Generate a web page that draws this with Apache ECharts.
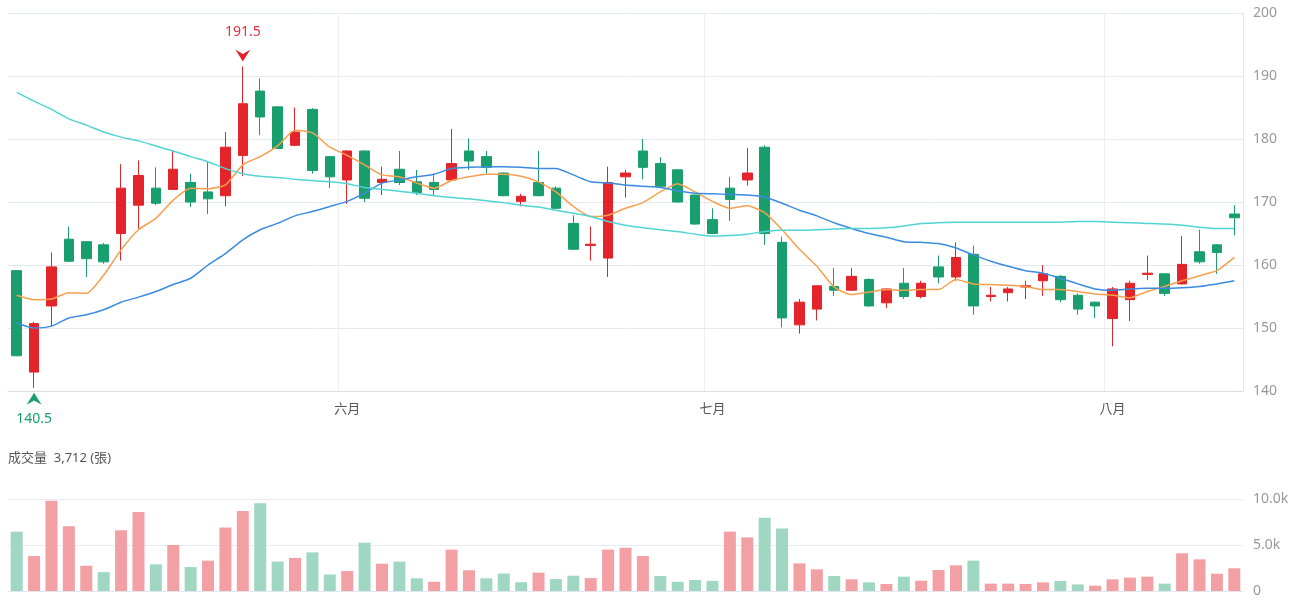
<!DOCTYPE html>
<html>
<head>
<meta charset="utf-8">
<script src="https://cdn.jsdelivr.net/npm/echarts@6/dist/echarts.min.js"></script>
<style>
  html, body { margin: 0; padding: 0; background: #fff; }
  #main { width: 1300px; height: 600px; }
</style>
</head>
<body>
<div id="main"></div>
<script>
// 交易日
const dates = [
  '2020/05/05','2020/05/06','2020/05/07','2020/05/08','2020/05/11','2020/05/12','2020/05/13','2020/05/14','2020/05/15','2020/05/18',
  '2020/05/19','2020/05/20','2020/05/21','2020/05/22','2020/05/25','2020/05/26','2020/05/27','2020/05/28','2020/05/29',
  '2020/06/01','2020/06/02','2020/06/03','2020/06/04','2020/06/05','2020/06/08','2020/06/09','2020/06/10','2020/06/11','2020/06/12',
  '2020/06/15','2020/06/16','2020/06/17','2020/06/18','2020/06/19','2020/06/20','2020/06/22','2020/06/23','2020/06/24','2020/06/29','2020/06/30',
  '2020/07/01','2020/07/02','2020/07/03','2020/07/06','2020/07/07','2020/07/08','2020/07/09','2020/07/10','2020/07/13','2020/07/14',
  '2020/07/15','2020/07/16','2020/07/17','2020/07/20','2020/07/21','2020/07/22','2020/07/23','2020/07/24','2020/07/27','2020/07/28',
  '2020/07/29','2020/07/30','2020/07/31',
  '2020/08/03','2020/08/04','2020/08/05','2020/08/06','2020/08/07','2020/08/10','2020/08/11','2020/08/12'
];
const monthNames = ['一月','二月','三月','四月','五月','六月','七月','八月','九月','十月','十一月','十二月'];

// K線 開/收/低/高
const opens = [
  159.1,143.0,153.5,164.1,163.7,163.2,165.0,169.5,172.2,172.0,173.1,171.6,
  171.0,177.4,187.6,185.1,179.0,184.7,177.2,173.5,178.1,173.1,175.2,173.2,
  173.1,173.5,178.1,177.2,174.6,170.1,173.1,172.2,166.6,163.1,161.1,174.0,
  178.1,176.1,175.1,171.1,167.2,172.2,173.5,178.7,163.6,150.5,153.0,156.6,
  156.0,157.7,154.0,157.1,155.0,159.7,158.1,161.7,155.0,155.6,156.5,157.5,
  158.2,155.2,154.1,151.5,154.5,158.5,158.6,157.0,162.1,163.2,168.1
];
const closes = [
  145.6,150.7,159.7,160.6,161.0,160.5,172.2,174.2,169.8,175.2,170.0,170.5,
  178.7,185.6,183.5,178.5,181.1,175.0,174.0,178.1,170.6,173.6,173.1,171.5,
  172.0,176.1,176.5,175.5,171.0,170.9,171.0,169.0,162.5,163.3,173.1,174.6,
  175.5,172.5,170.0,166.5,165.0,170.4,174.6,165.0,151.6,154.1,156.7,156.0,
  158.2,153.5,156.2,155.0,157.1,158.1,161.2,153.5,155.2,156.2,156.7,158.6,
  154.5,153.0,153.5,156.2,157.1,158.7,155.5,160.1,160.5,162.0,167.5
];
const lows = [
  145.5,140.5,150.3,160.5,158.1,160.2,160.7,165.6,169.5,171.9,169.2,168.1,
  169.3,174.1,180.6,178.4,178.9,174.5,172.2,169.7,170.0,171.1,172.7,171.1,
  171.1,173.4,175.1,174.5,170.9,169.3,170.9,168.9,162.4,160.7,158.1,170.7,
  173.6,172.4,169.9,166.4,164.9,167.0,172.6,163.2,150.1,149.1,151.2,155.1,
  155.9,153.4,153.2,154.6,154.7,157.1,157.5,152.1,154.2,154.2,154.6,155.1,
  154.1,152.1,151.6,147.1,151.1,157.6,155.1,156.9,160.2,158.6,164.7
];
const highs = [
  159.2,151.0,162.0,166.1,163.8,163.5,176.0,176.6,175.5,178.1,174.5,176.5,
  181.1,191.5,189.6,185.2,185.0,184.9,177.3,178.2,178.2,175.6,178.1,175.1,
  174.3,181.6,180.1,178.1,174.7,171.3,178.1,172.5,167.9,166.1,175.6,175.1,
  180.0,177.1,175.2,171.2,169.0,174.0,178.6,179.0,164.5,154.6,156.8,159.5,
  159.5,157.9,156.3,159.5,157.5,161.5,163.6,163.1,156.5,156.5,157.5,160.0,
  158.4,155.5,154.2,156.5,157.5,161.5,158.7,164.6,165.6,163.3,169.5
];

// 均線
const ma5 = [
  155.2,154.5,154.6,155.6,155.5,158.4,162.4,165.6,167.4,170.3,172.2,172.1,
  172.7,175.9,177.2,178.9,181.4,181.0,178.7,177.4,175.9,174.3,174.0,173.0,
  172.2,173.4,174.0,174.4,174.4,174.1,173.2,171.6,169.3,167.7,167.9,169.0,
  169.9,171.6,172.9,171.6,170.1,169.0,169.4,168.3,165.6,162.5,159.8,156.5,
  155.3,155.7,156.1,156.0,156.1,156.1,157.7,157.0,156.9,156.8,156.6,156.1,
  156.1,155.8,155.4,155.2,154.8,155.8,156.6,157.5,158.3,159.1,161.2
];
const ma20 = [
  150.8,150.0,150.3,151.6,152.1,152.9,154.1,154.9,155.8,156.9,157.9,160.0,
  161.8,164.0,165.6,166.6,167.8,168.5,169.3,170.1,171.4,173.0,173.5,174.0,
  174.4,175.3,175.5,175.6,175.6,175.5,175.3,175.3,174.3,173.2,173.0,172.7,
  172.5,172.3,171.8,171.4,171.3,171.2,171.1,170.8,169.8,168.7,167.8,166.7,
  165.8,165.0,164.4,163.7,163.6,163.4,162.7,161.6,160.6,159.8,159.1,158.7,
  157.9,157.0,156.2,156.0,156.2,156.3,156.3,156.4,156.6,157.0,157.5
];
const ma60 = [
  187.4,186.0,184.7,183.2,182.2,181.1,180.3,179.7,178.9,178.1,177.2,176.4,
  175.3,174.5,174.1,173.9,173.6,173.4,173.2,172.9,172.3,172.0,171.7,171.4,
  171.0,170.7,170.5,170.2,169.9,169.5,169.2,168.7,168.2,167.7,166.9,166.3,
  165.9,165.6,165.3,164.9,164.6,164.7,164.9,165.3,165.5,165.5,165.6,165.7,
  165.8,165.8,165.9,166.2,166.6,166.7,166.8,166.8,166.8,166.8,166.8,166.8,
  166.8,166.9,166.9,166.8,166.7,166.6,166.5,166.3,166.0,165.8,165.8
];

// 成交量 (張)
const volumes = [
  6450,3800,9800,7050,2750,2050,6600,8600,2900,5000,2600,3300,
  6900,8700,9550,3200,3600,4200,1800,2170,5250,2970,3200,1380,
  1000,4500,2250,1380,1900,950,2000,1300,1660,1400,4500,4700,
  3800,1630,1000,1200,1100,6450,5830,7970,6800,3000,2350,1630,
  1270,940,760,1560,1120,2280,2790,3300,800,800,760,940,
  1090,720,580,1270,1450,1560,800,4100,3440,1880,2470
];

const upColor = '#e3242b';
const downColor = '#189f6d';
const volUp = '#f3a0a4';
const volDown = '#9fd7c2';
const fontFamily = '"Noto Sans", "Noto Sans CJK TC", sans-serif';

function isMonthStart(i) {
  return i > 0 && dates[i].slice(5, 7) !== dates[i - 1].slice(5, 7);
}

const candleData = opens.map((o, i) => [o, closes[i], lows[i], highs[i]]);
// 量的顏色依收盤價與前一日比較
const volData = volumes.map((v, i) => ({
  value: v,
  itemStyle: { color: (i === 0 ? closes[i] < opens[i] : closes[i] < closes[i - 1]) ? volDown : volUp }
}));

const myChart = echarts.init(document.getElementById('main'));
myChart.setOption({
  animation: false,
  textStyle: { fontFamily: fontFamily },
  title: {
    text: '成交量  3,712 (張)',
    left: 3,
    top: 447,
    textStyle: { fontSize: 13, fontWeight: 'normal', color: '#555', fontFamily: fontFamily }
  },
  grid: [
    { left: 8, right: 57, top: 13, height: 378 },
    { left: 8, right: 57, top: 499, height: 92 }
  ],
  xAxis: [
    {
      type: 'category',
      data: dates,
      gridIndex: 0,
      boundaryGap: true,
      axisLine: { lineStyle: { color: '#d9dde6' } },
      axisTick: { show: false },
      axisLabel: {
        interval: function (i) { return isMonthStart(i); },
        formatter: function (v) { return monthNames[+v.slice(5, 7) - 1]; },
        color: '#555',
        fontSize: 13,
        margin: 12
      },
      splitLine: {
        show: true,
        interval: function (i) { return isMonthStart(i); },
        lineStyle: { color: '#eceef4' }
      }
    },
    {
      type: 'category',
      data: dates,
      gridIndex: 1,
      boundaryGap: true,
      axisLine: { lineStyle: { color: '#e3e6ee' } },
      axisTick: { show: false },
      axisLabel: { show: false },
      splitLine: { show: false }
    }
  ],
  yAxis: [
    {
      type: 'value',
      gridIndex: 0,
      position: 'right',
      min: 140,
      max: 200,
      interval: 10,
      axisLine: { show: true, lineStyle: { color: '#e3e6ee' } },
      axisTick: { show: false },
      axisLabel: { color: '#999', fontSize: 14, margin: 10 },
      splitLine: { lineStyle: { color: '#e4e8f1' } }
    },
    {
      type: 'value',
      gridIndex: 1,
      position: 'right',
      min: 0,
      max: 10000,
      interval: 5000,
      axisLine: { show: false },
      axisTick: { show: false },
      axisLabel: {
        color: '#999',
        fontSize: 14,
        margin: 10,
        formatter: function (v) { return v === 0 ? '0' : (v / 1000).toFixed(1) + 'k'; }
      },
      splitLine: { lineStyle: { color: '#e8ebf2' } }
    }
  ],
  series: [
    {
      name: 'K',
      type: 'candlestick',
      xAxisIndex: 0,
      yAxisIndex: 0,
      data: candleData,
      barWidth: 10,
      itemStyle: {
        color: upColor,
        color0: downColor,
        borderColor: upColor,
        borderColor0: downColor,
        borderWidth: 1
      },
      markPoint: {
        symbolKeepAspect: false,
        data: [
          {
            type: 'max',
            valueDim: 'highest',
            symbol: 'path://M0,0 L6,4 L12,0 L6,11 Z',
            symbolSize: [15, 12],
            symbolOffset: [0, -11],
            itemStyle: { color: upColor },
            label: { show: true, position: 'top', distance: 11, color: '#e0313c', fontSize: 14 }
          },
          {
            type: 'min',
            valueDim: 'lowest',
            symbol: 'path://M6,0 L12,11 L6,7 L0,11 Z',
            symbolSize: [15, 12],
            symbolOffset: [0, 11],
            itemStyle: { color: downColor },
            label: { show: true, position: 'bottom', distance: 7, color: downColor, fontSize: 14 }
          }
        ]
      }
    },
    {
      name: 'MA5',
      type: 'line',
      data: ma5,
      showSymbol: false,
      smooth: 0.2,
      lineStyle: { width: 1.5, color: '#f5a04e' },
      z: 3
    },
    {
      name: 'MA20',
      type: 'line',
      data: ma20,
      showSymbol: false,
      smooth: 0.2,
      lineStyle: { width: 1.5, color: '#3b8be0' },
      z: 3
    },
    {
      name: 'MA60',
      type: 'line',
      data: ma60,
      showSymbol: false,
      smooth: 0.2,
      lineStyle: { width: 1.5, color: '#52d4d4' },
      z: 3
    },
    {
      name: '成交量',
      type: 'bar',
      xAxisIndex: 1,
      yAxisIndex: 1,
      data: volData,
      barWidth: 12
    }
  ]
});
</script>
</body>
</html>
